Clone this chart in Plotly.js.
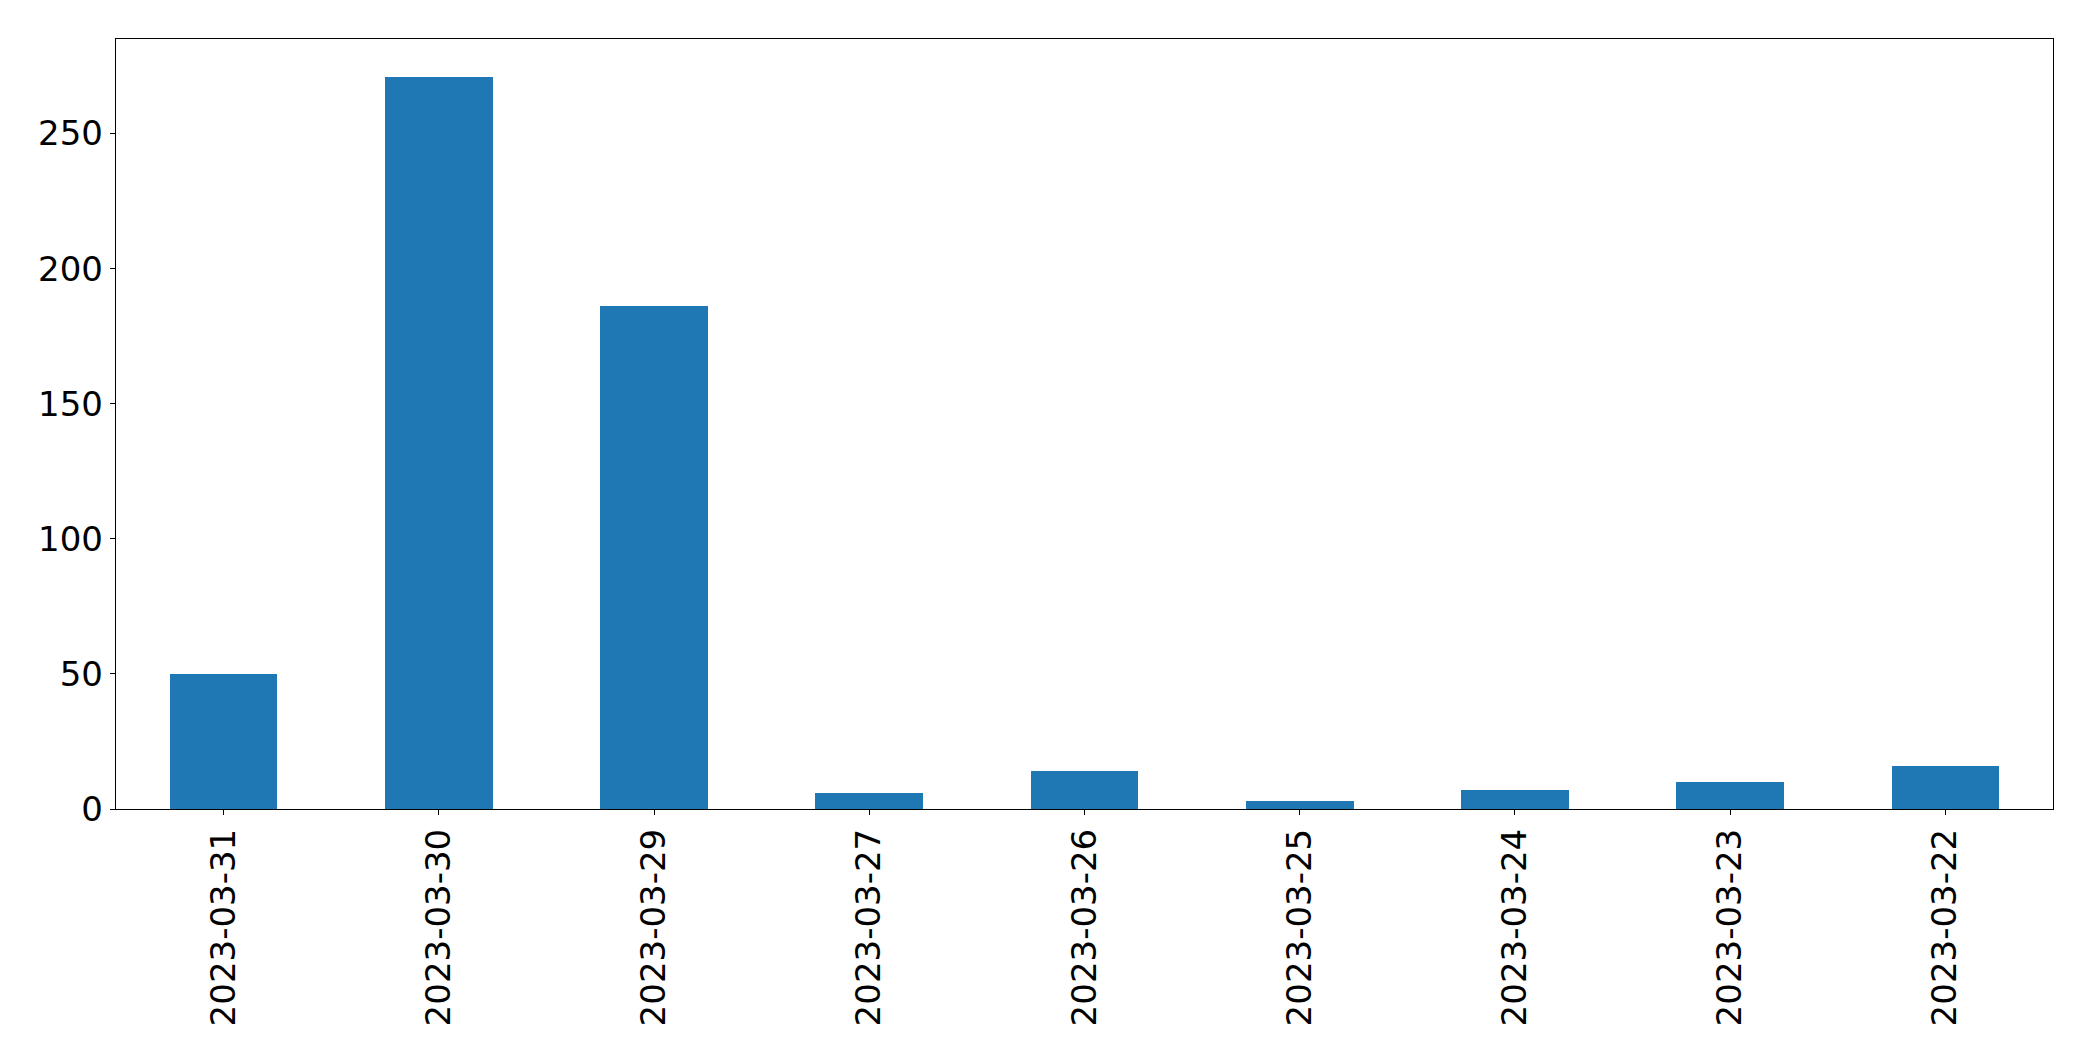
<!DOCTYPE html>
<html>
<head>
<meta charset="utf-8">
<script src="https://cdn.plot.ly/plotly-3.0.1.min.js"></script>
<style>html,body{margin:0;padding:0;background:#fff;}#chart{width:2093px;height:1061px;}</style>
</head>
<body>
<div id="chart"></div>
<script>
const categories = ["2023-03-31","2023-03-30","2023-03-29","2023-03-27","2023-03-26","2023-03-25","2023-03-24","2023-03-23","2023-03-22"];
const values = [50, 271, 186, 6, 14, 3, 7, 10, 16];
const yTicks = [0, 50, 100, 150, 200, 250];

const trace = {
  type: "bar",
  x: categories,
  y: values,
  width: 0.5,
  marker: {color: "#1f77b4", line: {width: 0}},
  hoverinfo: "x+y"
};

const axisFont = {family: "DejaVu Sans, sans-serif", size: 34, color: "#000"};

const layout = {
  width: 2093,
  height: 1061,
  margin: {l: 116, r: 40, t: 39, b: 252, pad: 0},
  paper_bgcolor: "#fff",
  plot_bgcolor: "#fff",
  showlegend: false,
  bargap: 0,
  xaxis: {
    type: "category",
    range: [-0.5, 8.5],
    tickangle: -90,
    tickfont: axisFont,
    ticks: "outside",
    ticklen: 5,
    tickwidth: 1,
    tickcolor: "#000",
    showline: true,
    linecolor: "#000",
    linewidth: 1.2,
    mirror: true,
    showgrid: false,
    zeroline: false,
    fixedrange: true
  },
  yaxis: {
    range: [0, 285],
    tickvals: yTicks,
    ticktext: yTicks.map(String),
    tickfont: axisFont,
    ticks: "outside",
    ticklen: 5,
    tickwidth: 1,
    tickcolor: "#000",
    showline: true,
    linecolor: "#000",
    linewidth: 1.2,
    mirror: true,
    showgrid: false,
    zeroline: false,
    fixedrange: true
  }
};

Plotly.newPlot("chart", [trace], layout, {displayModeBar: false, staticPlot: true});
</script>
</body>
</html>
